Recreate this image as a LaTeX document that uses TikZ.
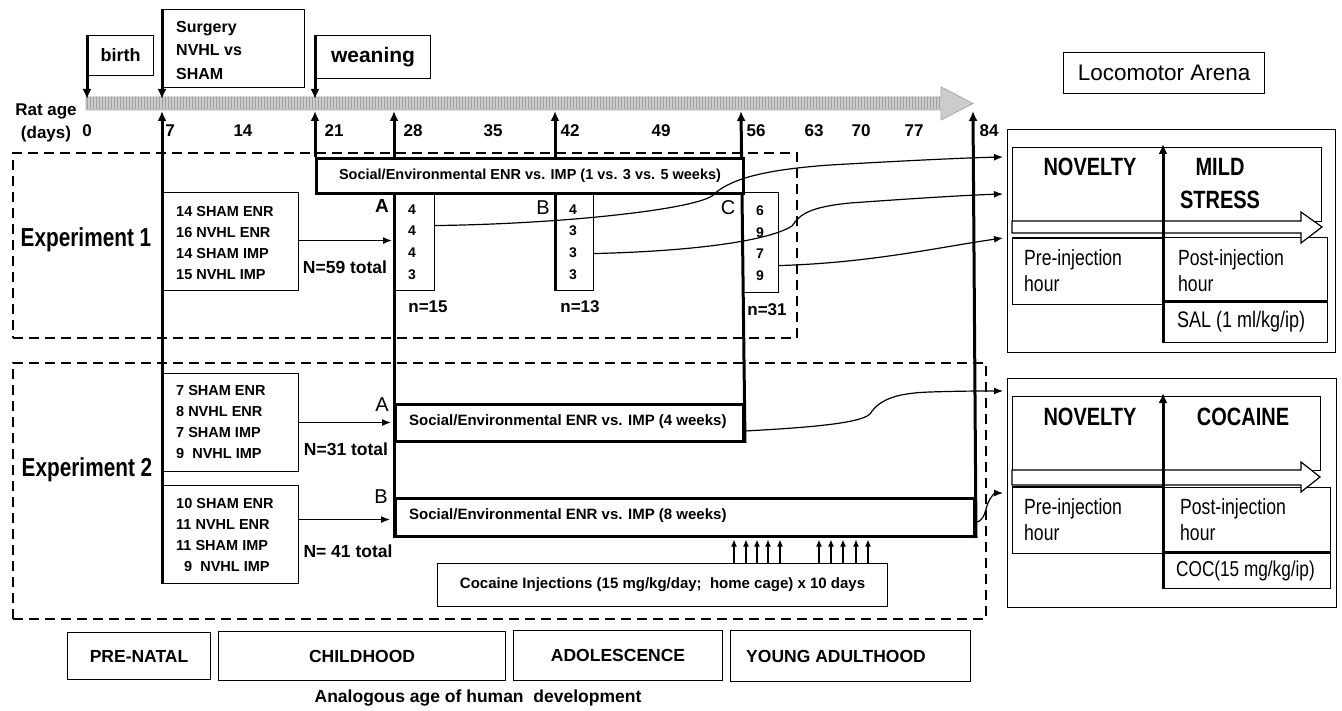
\documentclass[tikz,border=0pt]{standalone}
\usepackage{fontspec}
\setmainfont{Liberation Sans}
\newfontfamily\nf[FakeStretch=0.8]{Liberation Sans}
\usetikzlibrary{arrows.meta,patterns}
\newcommand{\fsz}[2]{\fontsize{#1}{#2}\selectfont}
\begin{document}
\begin{tikzpicture}[x=1pt,y=-1pt,
  box/.style={draw, line width=1.1pt, inner sep=0pt, anchor=north west},
  tbox/.style={draw, line width=3pt, inner sep=0pt, anchor=north west, fill=white},
  thk/.style={line width=3pt},
  tarr/.style={line width=3pt, -{Latex[length=10pt,width=9pt]}},
  sarr/.style={line width=1.2pt, -{Latex[length=9pt,width=7pt]}},
  carr/.style={line width=1.5pt, -{Latex[length=7pt,width=6pt]}},
  dbox/.style={draw, line width=2.4pt, dash pattern=on 10pt off 6pt, inner sep=0pt, anchor=north west},
  lbl/.style={inner sep=0pt},
  bnum/.style={lbl, font=\bfseries\fsz{17}{20}},
  wbox/.style={draw, line width=1.2pt, fill=white}
]
\path[use as bounding box] (0,0) rectangle (1342,711);

% dashed experiment frames
\node[dbox, minimum width=784, minimum height=185] (exp1) at (12,152) {};
\node[dbox, minimum width=973, minimum height=256] (exp2) at (12,362) {};

% timeline bar
\draw[fill=gray!40, draw=gray!70, line width=0.8pt] (86,97) -- (941,97) -- (941,87) -- (973,103.5) -- (941,120) -- (941,110) -- (86,110) -- cycle;
\fill[pattern=vertical lines, pattern color=gray!75] (87,98) rectangle (940,109);
\foreach \n/\xx in {0/87,7/162,21/315} \coordinate (dn\n) at (\xx,99);
\foreach \n/\xx in {7/162,21/315,28/394,42/555,56/741,84/973} \coordinate (up\n) at (\xx,111);

% top event boxes
\node[box, minimum width=66, minimum height=40, font=\bfseries\fsz{18}{20}] (birth) at (87,35) {birth};
\node[box, minimum width=142, minimum height=78] (surg) at (162,9) {};
\node[lbl, anchor=west, align=left, font=\bfseries\fsz{16}{23.5}] (surgT) at (176,50) {Surgery\\NVHL vs\\SHAM};
\node[box, minimum width=115, minimum height=43, font=\bfseries\fsz{21}{24}] (wean) at (315,35) {weaning};
\draw[tarr] (birth.north west) -- (dn0);
\draw[tarr] (surg.north west) -- (dn7);
\draw[tarr] (wean.north west) -- (dn21);

% axis labels
\node[lbl, align=center, font=\bfseries\fsz{17}{23}] (ratage) at (46,123) {Rat age\\(days)};
\foreach \v/\xx in {0/87,7/170,14/243,21/334,28/413,35/493,42/570,49/661,56/756,63/814,70/861,77/914,84/989}
  \node[bnum] (d\v) at (\xx,131) {\v};

% Experiment 1 / 2 group boxes and columns
\node[lbl, font=\nf\bfseries\fsz{26}{28}] (e1lab) at (86,240) {Experiment 1};
\node[box, minimum width=136, minimum height=98] (g1) at (162,192) {};
\node[lbl, anchor=west, align=left, font=\bfseries\fsz{14.5}{21.3}] (g1T) at (176,243) {14 SHAM ENR\\16 NVHL ENR\\14 SHAM IMP\\15 NVHL IMP};
\node[box, minimum width=40, minimum height=98] (colA) at (394,192) {};
\node[lbl, align=center, font=\bfseries\fsz{14}{21.6}] (colAT) at (412,242) {4\\4\\4\\3};
\node[box, minimum width=38, minimum height=98] (colB) at (555,192) {};
\node[lbl, align=center, font=\bfseries\fsz{14}{21.6}] (colBT) at (573,242) {4\\3\\3\\3};
\node[box, minimum width=36, minimum height=100] (colC) at (742,192) {};
\node[lbl, align=center, font=\bfseries\fsz{14}{21.6}] (colCT) at (760,243) {6\\9\\7\\9};
\node[lbl, font=\bfseries\fsz{19}{21}] (labA1) at (382,206) {A};
\node[lbl, font=\fsz{20}{22}] (labB1) at (543,208) {B};
\node[lbl, font=\fsz{20}{22}] (labC1) at (728,208) {C};
\node[bnum] (n15) at (428,307) {n=15};
\node[bnum] (n13) at (580,307) {n=13};
\node[bnum] (n31) at (767,310) {n=31};
\node[lbl, font=\bfseries\fsz{17.5}{20}] (N59) at (345,267) {N=59 total};
\coordinate (g1o) at ([yshift=1pt]g1.east);
\draw[sarr] (g1o) -- ([xshift=-2pt]colA.west |- g1o);

\node[lbl, font=\nf\bfseries\fsz{26}{28}] (e2lab) at (87,470) {Experiment 2};
\node[box, minimum width=136, minimum height=98] (g2a) at (162,373) {};
\node[lbl, anchor=west, align=left, font=\bfseries\fsz{14.5}{21.3}] (g2aT) at (176,422) {7 SHAM ENR\\8 NVHL ENR\\7 SHAM IMP\\9 \ NVHL IMP};
\node[box, minimum width=136, minimum height=98] (g2b) at (162,485) {};
\node[lbl, anchor=west, align=left, font=\bfseries\fsz{14.5}{21.3}] (g2bT) at (176,535) {10 SHAM ENR\\11 NVHL ENR\\11 SHAM IMP\\\hspace*{8pt}9 \ NVHL IMP};
\node[tbox, minimum width=348, minimum height=37] (soc2a) at (394,403) {};
\node[lbl, anchor=west, font=\bfseries\fsz{15}{17}] (soc2aT) at (409,422) {Social/Environmental ENR vs. IMP (4 weeks)};
\node[tbox, minimum width=579, minimum height=38] (soc2b) at (394,497) {};
\node[lbl, anchor=west, font=\bfseries\fsz{15}{17}] (soc2bT) at (409,516) {Social/Environmental ENR vs. IMP (8 weeks)};
\node[lbl, font=\fsz{20}{22}] (labA2) at (382,405) {A};
\node[lbl, font=\fsz{20}{22}] (labB2) at (381,497) {B};
\node[lbl, font=\bfseries\fsz{17.5}{20}] (N31) at (346,449) {N=31 total};
\node[lbl, font=\bfseries\fsz{17.5}{20}] (N41) at (348,551) {N= 41 total};
\draw[sarr] (g2a.east) -- ([xshift=-3pt]soc2a.west |- g2a.east);
\coordinate (g2bo) at ([yshift=15pt]g2b.east);
\draw[sarr] (g2bo) -- ([xshift=-4pt]soc2b.west |- g2bo);

% cocaine injections
\node[box, minimum width=450, minimum height=43, font=\bfseries\fsz{15}{17}] (coc) at (437,563) {Cocaine Injections (15 mg/kg/day;\ \ home cage) x 10 days};
\foreach \xx in {734,746,757,768,780,819,831,843,856,868} {
  \coordinate (sx) at (\xx,0);
  \draw[carr] (sx |- coc.north) -- ([yshift=-1.5pt]sx |- soc2b.south);
}

% thick vertical timeline links
\draw[tarr] (g2b.south west) -- (up7);
\draw[tarr] (soc2b.south west) -- (up28);
\draw[tarr] (colB.south west) -- (up42);
\draw[tarr] (soc2a.south east) -- (up56);
\draw[tarr] (soc2b.south east) -- (up84);

% social box of experiment 1 (white, over the timeline links)
\node[tbox, minimum width=427, minimum height=35, font=\bfseries\fsz{14.5}{16}] (soc1) at (315,157) {Social/Environmental ENR vs. IMP (1 vs. 3 vs. 5 weeks)};
\draw[tarr] (soc1.north west) -- (up21);

% Locomotor arena
\node[box, minimum width=201, minimum height=41, font=\fsz{22.5}{24}] (loco) at (1063,52) {Locomotor Arena};

% arena 1
\node[box, minimum width=328, minimum height=223] (ar1) at (1007,129) {};
\node[box, minimum width=309, minimum height=74] (ar1top) at (1012,147) {};
\node[box, minimum width=151, minimum height=66] (pre1) at (1012,238) {};
\node[box, minimum width=164, minimum height=65] (post1) at (1163,237) {};
\node[box, minimum width=164, minimum height=40] (sal) at (1163,302) {};
\draw[wbox] (1012,221) -- (1301,221) -- (1301,212) -- (1322,227) -- (1301,243) -- (1301,233) -- (1012,233) -- cycle;
\draw[line width=2.2pt] (pre1.north west) -- (pre1.north east);
\draw[thk] (sal.north west) -- (sal.north east);
\draw[tarr] (sal.south west) -- ([yshift=3pt]sal.west |- ar1top.north);
\node[lbl, font=\nf\bfseries\fsz{25}{27}] (nov1) at (1090,167) {NOVELTY};
\node[lbl, align=center, font=\nf\bfseries\fsz{25}{33}] (mild) at (1220,184) {MILD\\STRESS};
\node[lbl, anchor=west, align=left, font=\nf\fsz{22}{26}] (pre1T) at (1024,271) {Pre-injection\\hour};
\node[lbl, anchor=west, align=left, font=\nf\fsz{22}{26}] (post1T) at (1178,271) {Post-injection\\hour};
\node[lbl, anchor=west, font=\nf\fsz{22.5}{24}] (salT) at (1177,322) {SAL (1 ml/kg/ip)};

% arena 2
\node[box, minimum width=329, minimum height=229] (ar2) at (1007,378) {};
\node[box, minimum width=308, minimum height=74] (ar2top) at (1012,396) {};
\node[box, minimum width=151, minimum height=66] (pre2) at (1012,487) {};
\node[box, minimum width=167, minimum height=65] (post2) at (1163,487) {};
\node[box, minimum width=167, minimum height=36] (cocd) at (1163,552) {};
\draw[wbox] (1012,470) -- (1301,470) -- (1301,462) -- (1320,477) -- (1301,492) -- (1301,485) -- (1012,485) -- cycle;
\draw[line width=2.2pt] (pre2.north west) -- (pre2.north east);
\draw[thk] (cocd.north west) -- (cocd.north east);
\draw[tarr] (cocd.south west) -- ([yshift=3pt]cocd.west |- ar2top.north);
\node[lbl, font=\nf\bfseries\fsz{25}{27}] (nov2) at (1090,417) {NOVELTY};
\node[lbl, font=\nf\bfseries\fsz{25}{27}] (cocn) at (1243,417) {COCAINE};
\node[lbl, anchor=west, align=left, font=\nf\fsz{22}{26}] (pre2T) at (1024,520) {Pre-injection\\hour};
\node[lbl, anchor=west, align=left, font=\nf\fsz{22}{26}] (post2T) at (1180,520) {Post-injection\\hour};
\node[lbl, anchor=west, font=\nf\fsz{21.5}{24}] (cocT) at (1176,571) {COC(15 mg/kg/ip)};

% curved connectors to arenas
\coordinate (in1a) at (1003,157);
\coordinate (in1b) at (1003,194);
\coordinate (in1c) at (1003,238);
\coordinate (in2a) at (1003,391);
\coordinate (in2b) at (1003,493);
\coordinate (sA) at ([yshift=16pt]colA.east);
\coordinate (sB) at ([yshift=-12pt]colB.east);
\coordinate (sC) at ([yshift=-23pt]colC.east);
\coordinate (sA2) at ([yshift=-8pt]soc2a.east);
\coordinate (sB2) at ([yshift=-5pt]soc2b.east);
\draw[sarr] (sA) .. controls (560,224) and (690,210) .. (712,196) .. controls (728,180) and (760,170) .. (830,165) .. controls (900,161) and (960,158) .. (in1a);
\draw[sarr] (sB) .. controls (700,251) and (770,240) .. (792,226) .. controls (800,214) and (810,207) .. (850,203) .. controls (920,198) and (970,195) .. (in1b);
\draw[sarr] (sC) .. controls (870,263) and (940,247) .. (in1c);
\draw[sarr] (sA2) .. controls (800,428) and (860,424) .. (870,414) .. controls (880,398) and (900,393) .. (930,392) .. controls (960,391) and (980,391) .. (in2a);
\draw[sarr] (sB2) .. controls (985,520) and (985,510) .. (988,503) .. controls (991,496) and (995,493) .. (in2b);

% human development stages
\node[box, minimum width=143, minimum height=47, font=\bfseries\fsz{17.5}{20}] (prenatal) at (67,632) {PRE-NATAL};
\node[box, minimum width=287, minimum height=49, font=\bfseries\fsz{17.5}{20}] (child) at (218,631) {CHILDHOOD};
\node[box, minimum width=209, minimum height=50, font=\bfseries\fsz{17.5}{20}] (adol) at (513,630) {ADOLESCENCE};
\node[box, minimum width=240, minimum height=51] (young) at (730,630) {};
\node[lbl, font=\bfseries\fsz{17.5}{20}] (youngT) at (836,656) {YOUNG ADULTHOOD};
\node[lbl, font=\bfseries\fsz{17.5}{20}] (analog) at (478,698) {Analogous age of human\ \ development};
\end{tikzpicture}
\end{document}
